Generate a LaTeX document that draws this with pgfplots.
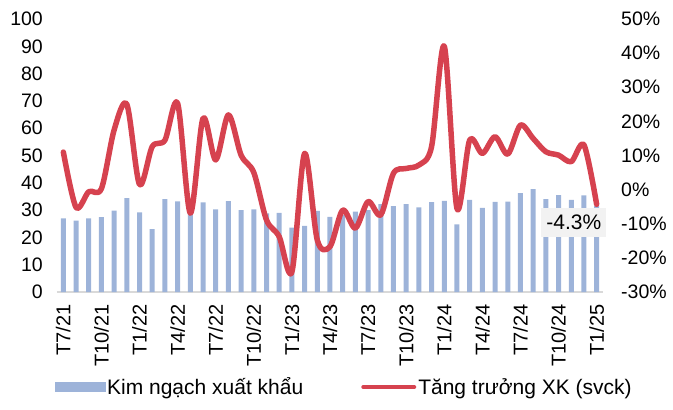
\documentclass[border=0pt]{standalone}
\usepackage{pgfplots}
\pgfplotsset{compat=1.18}
\usepackage{pgfplotstable}
\usepackage{fontspec}
\setmainfont{Liberation Sans}
\definecolor{barblue}{RGB}{157,179,217}
\definecolor{linered}{RGB}{214,66,79}
\definecolor{baseg}{RGB}{217,217,217}

\pgfplotstableread{
x bar line
0 27.0 11
1 26.1 -5.2
2 27.0 -0.6
3 27.4 0.3
4 29.8 17.5
5 34.4 25
6 29.2 1.5
7 23.0 12.6
8 34.0 14.5
9 33.2 25.3
10 32.0 -6.9
11 32.8 20.9
12 30.3 8.7
13 33.3 21.9
14 30.0 10.1
15 30.3 5
16 28.8 -8.9
17 29.0 -13.8
18 23.6 -24.1
19 24.2 10.6
20 29.7 -14.8
21 27.5 -16.7
22 28.2 -6.0
23 29.4 -11.3
24 30.0 -3.5
25 32.2 -7.4
26 31.5 4.8
27 32.2 6.2
28 31.0 7.2
29 32.9 12.6
30 33.4 42
31 24.8 -5.5
32 33.7 14.5
33 30.8 10.6
34 33.0 15.5
35 33.1 10.4
36 36.2 18.9
37 37.7 15
38 34.0 11.1
39 35.5 10.1
40 33.7 8.2
41 35.4 13.1
42 31.5 -4.3
}\datatable

\begin{document}
\begin{tikzpicture}
\pgfplotsset{
  every axis/.append style={
    width=546pt, height=273pt, scale only axis,
    xmin=-0.5, xmax=42.5,
    major tick length=0pt,
    tick label style={font=\fontsize{19.5}{22}\selectfont},
    /pgf/number format/assume math mode=true,
  }
}
\begin{axis}[
  name=ax,
  ymin=0, ymax=100,
  ytick={0,10,...,100},
  axis x line*=bottom, axis y line*=left,
  x axis line style={baseg, line width=1.5pt, -},
  y axis line style={draw=none},
  xtick={0,3,...,42},
  xticklabels={T7/21,T10/21,T1/22,T4/22,T7/22,T10/22,T1/23,T4/23,T7/23,T10/23,T1/24,T4/24,T7/24,T10/24,T1/25},
  x tick label style={rotate=90, anchor=east, inner sep=0pt, xshift=-12pt, font=\fontsize{20}{22}\selectfont},
  y tick label style={inner sep=0pt, xshift=-14pt},
  clip=false,
]
\addplot[ybar, bar width=5pt, fill=barblue, draw=none] table[x=x, y=bar] {\datatable};
\end{axis}
\begin{axis}[
  ymin=-30, ymax=50,
  ytick={-30,-20,...,50},
  yticklabel={\pgfmathprintnumber{\tick}\%},
  axis y line*=right, axis x line=none,
  y axis line style={draw=none},
  y tick label style={anchor=west, inner sep=0pt, xshift=18pt},
  clip=false,
  legend style={at={(-0.01,-0.348)}, anchor=west, draw=none, fill=none,
    font=\fontsize{21}{24}\selectfont, legend columns=2,
    /tikz/every even column/.append style={column sep=56pt}},
  legend cell align=left,
]
\addlegendimage{area legend, legend image code/.code={\fill[barblue] (0pt,-4.5pt) rectangle (50pt,4.5pt);}}
\addlegendentry{Kim ngạch xuất khẩu}
\addplot[linered, line width=5.5pt, smooth, line join=round, line cap=round,
  legend image code/.code={\draw[linered, line width=4pt] (0pt,0pt) -- (51pt,0pt);}]
  table[x=x, y=line] {\datatable};
\addlegendentry{Tăng trưởng XK (svck)}
\node[fill=black!5, inner xsep=5pt, inner ysep=7pt, font=\fontsize{21}{24}\selectfont] at (axis cs:40.2,-9.6) {-4.3\%};
\end{axis}
\path (ax.south west) ++(-57pt,-118pt) rectangle ++(673pt,410pt);
\end{tikzpicture}
\end{document}
